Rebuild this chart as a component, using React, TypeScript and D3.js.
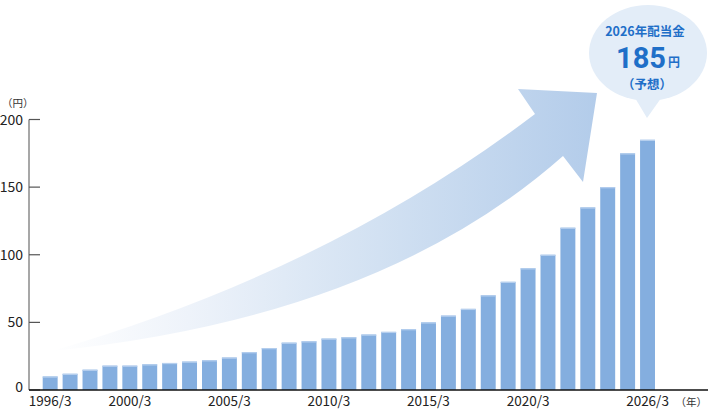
import * as d3 from 'd3';
import { type FC } from 'react';

const years = [
  1996, 1997, 1998, 1999, 2000, 2001, 2002, 2003, 2004, 2005, 2006, 2007,
  2008, 2009, 2010, 2011, 2012, 2013, 2014, 2015, 2016, 2017, 2018, 2019,
  2020, 2021, 2022, 2023, 2024, 2025, 2026,
];
const dividends = [
  10, 12, 15, 18, 18, 19, 20, 21, 22, 24, 28, 31, 35, 36, 38, 39, 41, 43, 45,
  50, 55, 60, 70, 80, 90, 100, 120, 135, 150, 175, 185,
];
const labelYears = [1996, 2000, 2005, 2010, 2015, 2020, 2026];
const yTicks = [0, 50, 100, 150, 200];

const W = 708;
const H = 410;
const FONT = '"Noto Sans CJK JP", "Noto Sans", sans-serif';
const BAR = '#84aedf';
const BLUE = '#1f6fc8';

const App: FC = () => {
  const x = d3
    .scaleBand<number>()
    .domain(years)
    .range([42.7, 655])
    .paddingInner(0.25)
    .paddingOuter(0);
  const y = d3.scaleLinear().domain([0, 200]).range([390, 119.5]);

  // Growth arrow (decorative)
  const arrow = d3.path();
  arrow.moveTo(52, 351);
  arrow.quadraticCurveTo(330, 270, 535, 114);
  arrow.lineTo(518, 89);
  arrow.lineTo(597, 93);
  arrow.lineTo(583, 182);
  arrow.lineTo(563, 156);
  arrow.quadraticCurveTo(380, 318, 52, 351);
  arrow.closePath();

  // Speech bubble
  const bubble = d3.path();
  const cx = 648;
  const cy = 53;
  const rx = 59;
  const ry = 48;
  const a0 = Math.PI / 2 + 0.2;
  const a1 = Math.PI / 2 - 0.2;
  bubble.moveTo(cx + rx * Math.cos(a1), cy + ry * Math.sin(a1));
  bubble.lineTo(647, 118);
  bubble.lineTo(cx + rx * Math.cos(a0), cy + ry * Math.sin(a0));

  return (
    <svg
      width={W}
      height={H}
      style={{ position: 'absolute', left: 0, top: 0 }}
      fontFamily={FONT}
    >
      <defs>
        <linearGradient id="arrowGrad" x1="52" y1="0" x2="597" y2="0" gradientUnits="userSpaceOnUse">
          <stop offset="0" stopColor="#ffffff" />
          <stop offset="0.25" stopColor="#eef3fa" />
          <stop offset="0.6" stopColor="#d2e1f2" />
          <stop offset="1" stopColor="#b3ccea" />
        </linearGradient>
      </defs>

      <path d={arrow.toString()} fill="url(#arrowGrad)" />

      <ellipse cx={cx} cy={cy} rx={rx} ry={ry} fill="#e3edf8" />
      <path d={bubble.toString()} fill="#e3edf8" />
      <text x={645} y={36} textAnchor="middle" fontSize={12.5} fontWeight={700} fill={BLUE}>
        2026年配当金
      </text>
      <text
        x={641}
        y={68}
        textAnchor="middle"
        fontSize={29}
        fontWeight={700}
        fill={BLUE}
        fontFamily='Roboto, "Noto Sans", sans-serif'
      >
        185
      </text>
      <text x={674} y={67} textAnchor="middle" fontSize={12} fontWeight={700} fill={BLUE}>
        円
      </text>
      <text x={647} y={89} textAnchor="middle" fontSize={12.5} fontWeight={700} fill={BLUE}>
        （予想）
      </text>

      {years.map((yr, i) => (
        <rect
          key={yr}
          x={x(yr)}
          y={y(dividends[i])}
          width={x.bandwidth()}
          height={y(0) - y(dividends[i])}
          fill={BAR}
        />
      ))}
      {years.map((yr, i) => (
        <rect
          key={`t${yr}`}
          x={x(yr)}
          y={y(dividends[i])}
          width={x.bandwidth()}
          height={1.2}
          fill="#b6cfee"
        />
      ))}

      {/* y axis */}
      <line x1={29} x2={29} y1={119.5} y2={390} stroke="#8a8a8a" strokeWidth={1.5} />
      {yTicks.map((t) => (
        <g key={t}>
          <line x1={29} x2={40} y1={y(t)} y2={y(t)} stroke="#555" strokeWidth={1.2} />
          <text
            x={23}
            y={y(t) - (t === 0 ? 3 : 0)}
            dy="0.36em"
            textAnchor="end"
            fontSize={14}
            fill="#222"
          >
            {t}
          </text>
        </g>
      ))}
      <text x={2} y={107} fontSize={10.5} fill="#333">
        （円）
      </text>

      {/* x axis */}
      <line x1={29} x2={708} y1={390} y2={390} stroke="#111" strokeWidth={1.5} />
      {labelYears.map((yr) => (
        <text
          key={yr}
          x={(x(yr) ?? 0) + x.bandwidth() / 2}
          y={406}
          textAnchor="middle"
          fontSize={13.5}
          fill="#222"
        >
          {`${yr}/3`}
        </text>
      ))}
      <text x={707} y={406} textAnchor="end" fontSize={10.5} fill="#333">
        （年）
      </text>
    </svg>
  );
};

export default App;
